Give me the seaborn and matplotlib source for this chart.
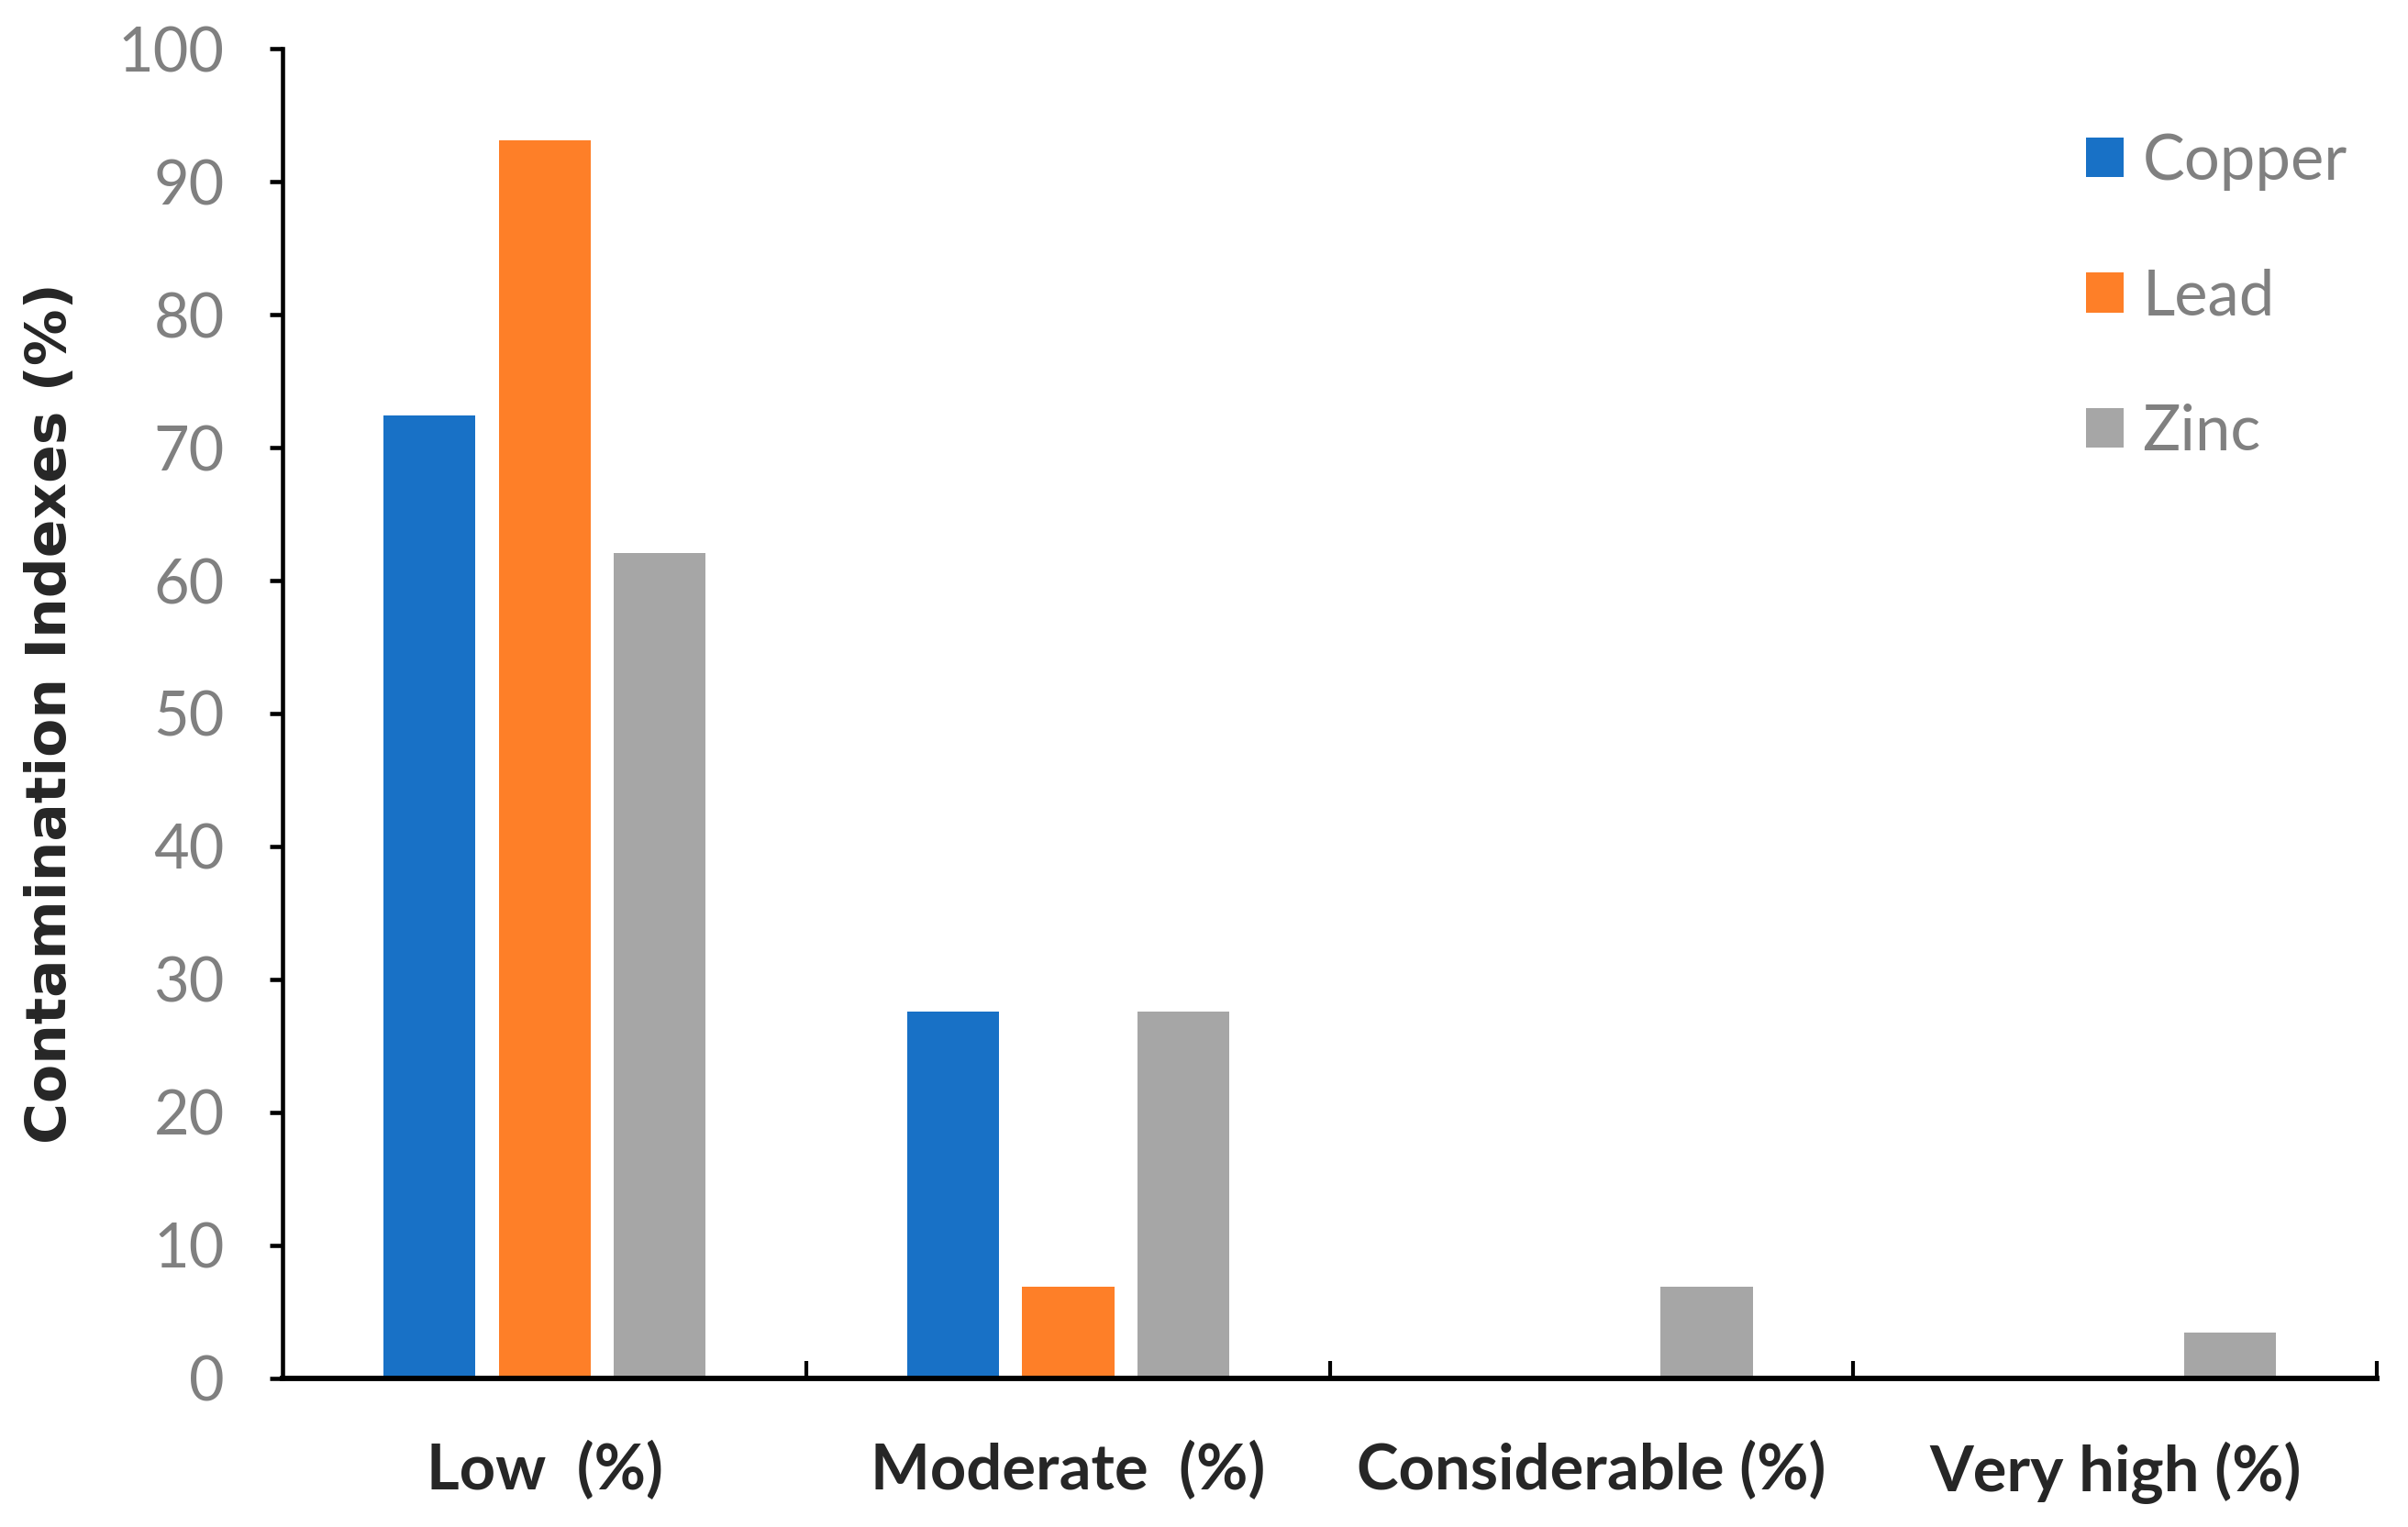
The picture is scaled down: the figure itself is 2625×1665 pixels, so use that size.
import pandas as pd
import matplotlib.pyplot as plt
import seaborn as sns
from matplotlib.ticker import FixedLocator

# Daten
categories = ["Low  (%)", "Moderate  (%)", "Considerable (%)", "Very high (%)"]
metals = ["Copper", "Lead", "Zinc"]
copper = [72.4, 27.6, 0, 0]
lead = [93.1, 6.9, 0, 0]
zinc = [62.1, 27.6, 6.9, 3.4]
colors = ["#1871C6", "#FE7F28", "#A6A6A6"]

rows = []
for metal, vals in zip(metals, [copper, lead, zinc]):
    for cat, v in zip(categories, vals):
        rows.append({"category": cat, "metal": metal, "value": v})
df = pd.DataFrame(rows)

sns.set_style("white")
plt.rcParams["font.family"] = ["Lato", "DejaVu Sans"]

fig = plt.figure(figsize=(17.5, 11.1), dpi=150)
ax = fig.add_subplot(111)
fig.subplots_adjust(left=0.1175, right=0.987, top=0.968, bottom=0.0975)

sns.barplot(data=df, x="category", y="value", hue="metal", order=categories,
            hue_order=metals, palette=colors, width=0.66, gap=0.2,
            saturation=1, linewidth=0, ax=ax)

ax.set_xlim(-0.5, 3.5)
ax.set_ylim(0, 100)
ax.set_yticks(range(0, 101, 10))
ax.set_xlabel("")
ax.set_ylabel("Contamination Indexes (%)")
ax.yaxis.label.set_fontfamily("DejaVu Sans")
ax.yaxis.label.set_fontweight("bold")
ax.yaxis.label.set_fontsize(29.5)
ax.yaxis.set_label_coords(-0.098, 0.5)

for s in ["top", "right"]:
    ax.spines[s].set_visible(False)
ax.spines["left"].set_linewidth(2.2)
ax.spines["bottom"].set_linewidth(2.8)
ax.spines["left"].set_color("black")
ax.spines["bottom"].set_color("black")

ax.tick_params(axis="y", direction="out", length=6.5, width=2.2, color="black",
               labelsize=32, labelcolor="#808080", pad=24, left=True)
ax.tick_params(axis="x", which="major", length=0, labelsize=33, pad=33)
for lab in ax.get_xticklabels():
    lab.set_fontweight("bold")
ax.xaxis.set_minor_locator(FixedLocator([0.5, 1.5, 2.5, 3.5]))
ax.tick_params(axis="x", which="minor", direction="in", length=9, width=2,
               color="black", bottom=True)

ax.legend(loc="upper left", bbox_to_anchor=(0.861, 0.937), frameon=False,
          fontsize=33, labelcolor="#808080", handlelength=0.6, handleheight=0.6,
          handletextpad=0.3, labelspacing=1.23, borderpad=0, borderaxespad=0)

fig.savefig("out.png", dpi=150)
